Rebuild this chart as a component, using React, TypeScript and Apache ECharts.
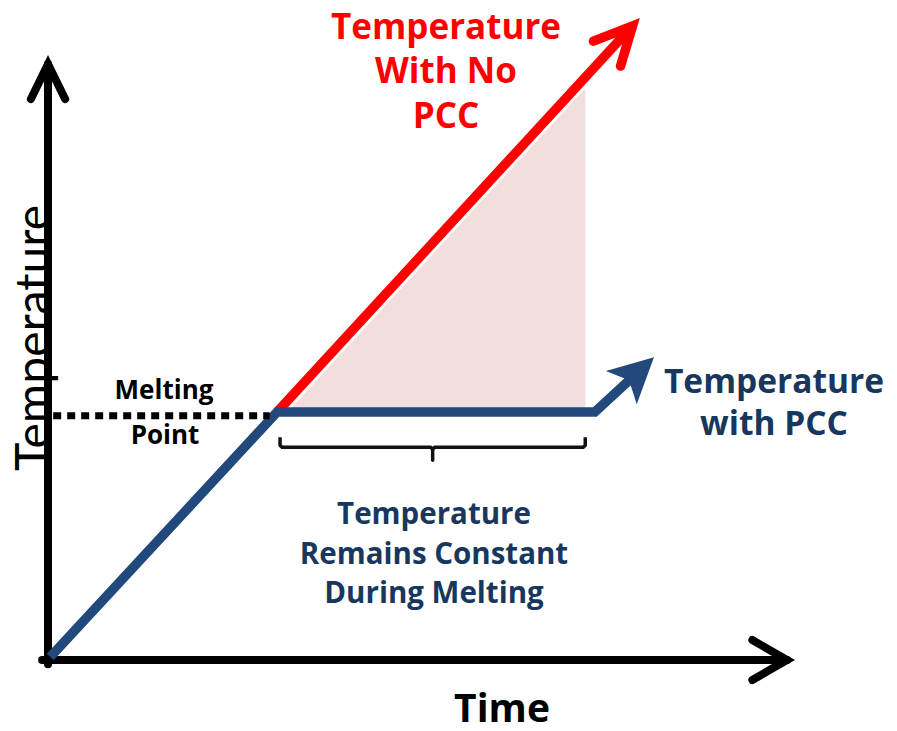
import React, { useEffect, useRef } from "react";
import * as echarts from "echarts";

// ---- Conceptual data (time, temperature) in axis units ----
const withPccTime = [0.3, 31.0, 74.0, 82.0];
const withPccTemp = [0.5, 41.6, 41.6, 50.8];
const noPccTime = [31.0, 79.1];
const noPccTemp = [41.6, 106.4];
const meltingPointTime = [0.7, 30.0];
const meltingPointTemp = [41.0, 41.0];
const shadeTime = [31.8, 72.7, 72.7];
const shadeTemp = [42.3, 42.3, 96.5];
const braceTime = [31.4, 72.7];
const braceTemp = [35.7];

const xMin = -0.8, xMax = 100, yMin = -0.7, yMax = 100;

const BLUE = "#21497C";
const TEXT_BLUE = "#17375E";
const RED = "#FF0000";
const FONT = "Open Sans";

const pair = (xs: number[], ys: number[]) => xs.map((x, i) => [x, ys[i]]);

export default function App() {
  const ref = useRef<HTMLDivElement>(null);
  useEffect(() => {
    document.body.style.margin = "0";
    if (!ref.current) return;
    const chart = echarts.init(ref.current, null, { renderer: "svg" });

    const bluePts = pair(withPccTime, withPccTemp);
    const n = bluePts.length;
    const prev = bluePts[n - 2], tip = bluePts[n - 1];
    const t = 0.65;
    const blueLine = bluePts.slice(0, n - 1).concat([[prev[0] + (tip[0] - prev[0]) * t, prev[1] + (tip[1] - prev[1]) * t]]);
    const redPts = pair(noPccTime, noPccTemp);

    // arrowheads: [tipX, tipY, fromX, fromY]
    const arrowData = [
      [xMax, 0, 0, 0],
      [0, yMax, 0, 0],
      [redPts[1][0], redPts[1][1], redPts[0][0], redPts[0][1]],
      [tip[0], tip[1], prev[0], prev[1]],
    ];
    const arrowStyle = [
      { kind: "open", color: "#000", len: 40, half: 30, width: 8 },
      { kind: "open", color: "#000", len: 39, half: 26, width: 8 },
      { kind: "open", color: RED, len: 42, half: 26, width: 9.5 },
      { kind: "dart", color: BLUE, len: 50, half: 27, notch: 34 },
    ];

    const text = (str: string, x: number, y: number, size: number, color: string, lh = size, weight: any = "bold", rotation = 0, family = FONT) => ({
      type: "text",
      x, y, rotation,
      style: {
        text: str, fill: color, fontSize: size, fontWeight: weight, fontFamily: family,
        align: "center", verticalAlign: "middle", lineHeight: lh,
      },
      z: 100,
    });

    const option: any = {
      animation: false,
      grid: { left: 42.1, right: 110, top: 64, bottom: 66.8, outerBoundsMode: "none" },
      xAxis: {
        type: "value", min: xMin, max: xMax,
        axisLine: { show: true, onZero: true, lineStyle: { color: "#000", width: 8 } },
        axisTick: { show: false }, axisLabel: { show: false }, splitLine: { show: false },
      },
      yAxis: {
        type: "value", min: yMin, max: yMax,
        axisLine: { show: true, onZero: true, lineStyle: { color: "#000", width: 8 } },
        axisTick: { show: false }, axisLabel: { show: false }, splitLine: { show: false },
      },
      series: [
        {
          type: "custom", name: "shade", coordinateSystem: "cartesian2d", clip: false,
          data: [[shadeTime[0], shadeTemp[0]]],
          renderItem: (_p: any, api: any) => ({
            type: "polygon",
            shape: { points: pair(shadeTime, shadeTemp).map((pt) => api.coord(pt)) },
            style: { fill: "#F2DFDD" },
          }),
          z: 1,
        },
        {
          type: "line", name: "halo", data: redPts, clip: false, symbol: "none",
          lineStyle: { color: "#fff", width: 15 }, z: 2, silent: true,
        },
        {
          type: "line", name: "Temperature With No PCC", data: redPts, clip: false, symbol: "none",
          lineStyle: { color: RED, width: 9.5, cap: "butt" }, z: 3,
        },
        {
          type: "line", name: "Temperature with PCC", data: blueLine, clip: false, symbol: "none",
          lineStyle: { color: BLUE, width: 9.5, join: "miter" }, z: 4,
        },
        {
          type: "line", name: "Melting Point", data: pair(meltingPointTime, meltingPointTemp), clip: false, symbol: "none",
          lineStyle: { color: "#000", width: 7, type: [8, 6] }, z: 4,
        },
        {
          type: "custom", name: "brace", coordinateSystem: "cartesian2d", clip: false,
          data: [[braceTime[0], braceTemp[0], braceTime[1]]],
          renderItem: (_p: any, api: any) => {
            const l = api.coord([api.value(0), api.value(1)]);
            const r = api.coord([api.value(2), api.value(1)]);
            const ly = l[1], lx = l[0], rx = r[0], mx = (lx + rx) / 2;
            return {
              type: "polyline",
              shape: {
                points: [
                  [lx, ly - 10], [lx, ly - 2], [lx + 2, ly], [mx - 2, ly], [mx, ly + 2], [mx, ly + 13],
                  [mx, ly + 2], [mx + 2, ly], [rx - 2, ly], [rx, ly - 2], [rx, ly - 10],
                ],
              },
              style: { stroke: "#111", lineWidth: 3.5, fill: "none", lineJoin: "round" },
            };
          },
          z: 5,
        },
        {
          type: "custom", name: "arrows", coordinateSystem: "cartesian2d", clip: false,
          data: arrowData,
          renderItem: (p: any, api: any) => {
            const tp = api.coord([api.value(0), api.value(1)]);
            const fp = api.coord([api.value(2), api.value(3)]);
            let dx = fp[0] - tp[0], dy = fp[1] - tp[1];
            const L = Math.hypot(dx, dy); dx /= L; dy /= L;
            const s: any = arrowStyle[p.dataIndex];
            const rot = (a: number, len: number) => {
              const r = (a * Math.PI) / 180;
              return [tp[0] + len * (dx * Math.cos(r) - dy * Math.sin(r)), tp[1] + len * (dx * Math.sin(r) + dy * Math.cos(r))];
            };
            if (s.kind === "open") {
              return {
                type: "polyline",
                shape: { points: [rot(s.half, s.len), tp, rot(-s.half, s.len)] },
                style: { stroke: s.color, lineWidth: s.width, lineCap: "round", lineJoin: "miter", fill: "none" },
              };
            }
            return {
              type: "polygon",
              shape: { points: [tp, rot(s.half, s.len), [tp[0] + dx * s.notch, tp[1] + dy * s.notch], rot(-s.half, s.len)] },
              style: { fill: s.color },
            };
          },
          z: 6,
        },
      ],
      graphic: [
        text("Temperature\nWith No\nPCC", 446, 69.5, 35, RED, 44.5),
        text("Temperature\nwith PCC", 774, 401, 33.5, TEXT_BLUE, 41.5),
        text("Melting", 164, 389, 26, "#000"),
        text("Point", 165, 434, 26, "#000"),
        text("Temperature\nRemains Constant\nDuring Melting", 434, 552, 29.5, TEXT_BLUE, 39.5),
        text("Time", 502, 706, 39, "#000"),
        text("Temperature", 31, 338, 48, "#000", 48, "normal", Math.PI / 2, "Lato"),
      ],
    };
    chart.setOption(option);
    return () => chart.dispose();
  }, []);
  return <div ref={ref} style={{ width: 897, height: 731 }} />;
}
